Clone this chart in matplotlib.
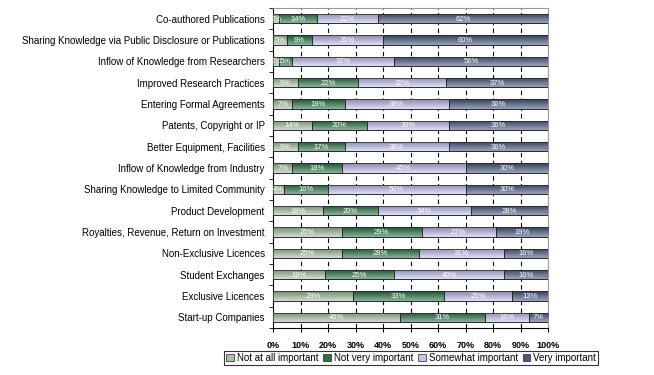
import matplotlib
matplotlib.use("Agg")
import matplotlib.pyplot as plt
import numpy as np
from matplotlib.ticker import FixedLocator, PercentFormatter
from matplotlib.colors import to_rgb

categories = [
    "Co-authored Publications",
    "Sharing Knowledge via Public Disclosure or Publications",
    "Inflow of Knowledge from Researchers",
    "Improved Research Practices",
    "Entering Formal Agreements",
    "Patents, Copyright or IP",
    "Better Equipment, Facilities",
    "Inflow of Knowledge from Industry",
    "Sharing Knowledge to Limited Community",
    "Product Development",
    "Royalties, Revenue, Return on Investment",
    "Non-Exclusive Licences",
    "Student Exchanges",
    "Exclusive Licences",
    "Start-up Companies",
]
series_names = ["Not at all important", "Not very important", "Somewhat important", "Very important"]
not_at_all = [2, 5, 2, 9, 7, 14, 9, 7, 4, 18, 25, 25, 19, 29, 46]
not_very = [14, 9, 5, 22, 19, 20, 17, 18, 16, 20, 29, 28, 25, 33, 31]
somewhat = [22, 26, 37, 32, 38, 30, 38, 45, 50, 34, 27, 31, 40, 25, 16]
very = [62, 60, 56, 37, 36, 36, 36, 30, 30, 28, 19, 16, 16, 13, 7]
x_ticks = [0, 10, 20, 30, 40, 50, 60, 70, 80, 90, 100]

colors = ["#a9c2a6", "#2b7347", "#c3c3f5", "#4a5880"]
font = "Liberation Sans"
plt.rcParams["font.family"] = [font, "DejaVu Sans"]

fig = plt.figure(figsize=(6.54, 3.75), dpi=100)
ax = fig.add_axes([273 / 654, 1 - 328 / 375, 275 / 654, 320 / 375])


def gradient(col):
    c = np.array(to_rgb(col))
    top = c + (1 - c) * 0.45
    bot = c * 0.7
    t = np.linspace(0, 1, 32)[:, None]
    # rows: first row at top of image extent (origin upper)
    g = top[None, :] * (1 - t) + bot[None, :] * t
    return g[:, None, :]


y = np.arange(len(categories))
left = np.zeros(len(categories))
for name, vals, col in zip(series_names, [not_at_all, not_very, somewhat, very], colors):
    vals = np.array(vals, dtype=float)
    bars = ax.barh(y, vals, left=left, height=0.44, color=col, edgecolor="#222222",
                   linewidth=0.5, label=name, zorder=3)
    grad = gradient(col)
    for p in bars.patches:
        x0, y0 = p.get_x(), p.get_y()
        w, h = p.get_width(), p.get_height()
        im = ax.imshow(grad, extent=(x0, x0 + w, y0 + h, y0), aspect="auto",
                       origin="lower", zorder=3.1, interpolation="bilinear")
        im.set_clip_path(p)
        ax.add_patch(plt.Rectangle((x0, y0), w, h, fill=False, edgecolor="#222222",
                                   linewidth=0.5, zorder=3.2))
    for yi, l, v in zip(y, left, vals):
        ax.text(l + v / 2, yi + 0.03, f"{v:.0f}%", ha="center", va="center",
                fontsize=5.5, color="white", zorder=4)
    left += vals

ax.set_xlim(0, 100)
ax.set_ylim(len(categories) - 0.5, -0.5)
ax.set_aspect("auto")
ax.xaxis.set_major_locator(FixedLocator(x_ticks))
ax.xaxis.set_major_formatter(PercentFormatter(decimals=0))
for xv in x_ticks[1:-1]:
    ax.axvline(xv, color="black", linestyle=(0, (4, 3)), linewidth=0.8, zorder=1)

ax.set_yticks(y)
ax.set_yticklabels(categories, fontsize=7)
ax.set_yticks(np.arange(-0.5, len(categories), 1), minor=True)
ax.tick_params(axis="y", which="major", length=0, pad=6)
ax.tick_params(axis="y", which="minor", length=3, direction="out", color="black")
ax.tick_params(axis="x", which="major", length=3, direction="out", labelsize=6.5, pad=6)
for lab in ax.get_xticklabels():
    lab.set_fontweight("bold")

for s in ["left", "bottom"]:
    ax.spines[s].set_color("black")
    ax.spines[s].set_linewidth(0.8)
for s in ["top", "right"]:
    ax.spines[s].set_color("#999999")
    ax.spines[s].set_linewidth(0.8)

leg = fig.legend(loc="center", bbox_to_anchor=(411 / 654, 1 - 358 / 375), ncol=4,
                 fontsize=7, frameon=True, fancybox=False, edgecolor="black",
                 handlelength=0.8, handleheight=0.8, handletextpad=0.3,
                 columnspacing=0.5, borderpad=0.2, borderaxespad=0)
leg.get_frame().set_linewidth(0.8)

fig.savefig("out.png", dpi=100)
